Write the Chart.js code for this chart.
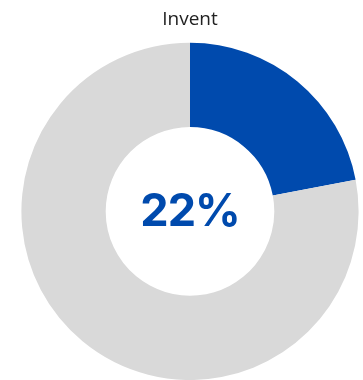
<!DOCTYPE html>
<html>
<head>
<meta charset="utf-8">
<script src="https://cdn.jsdelivr.net/npm/chart.js@4/dist/chart.umd.min.js"></script>
<style>
  html, body { margin: 0; padding: 0; background: #fff; }
  #wrap { width: 363px; height: 380px; position: relative; }
</style>
</head>
<body>
<div id="wrap"><canvas id="myChart"></canvas></div>
<script>
const labels = ['Invent', 'Other'];
const values = [22, 78];
const colors = ['#004AAD', '#D9D9D9'];
const centerLabel = '22%';

// draws the big percentage in the hole
const centerText = {
    id: 'centerText',
    afterDatasetsDraw(chart) {
        const arc = chart.getDatasetMeta(0).data[0];
        if (!arc) return;
        const ctx = chart.ctx;
        ctx.save();
        ctx.font = 'bold 45px Inter';
        ctx.letterSpacing = '-1px';
        ctx.fillStyle = '#004AAD';
        ctx.textAlign = 'center';
        ctx.textBaseline = 'alphabetic';
        ctx.fillText(centerLabel, arc.x, arc.y + 15);
        ctx.restore();
    }
};

const chart = new Chart(document.getElementById('myChart'), {
    type: 'doughnut',
    data: {
        labels: labels,
        datasets: [{
            data: values,
            backgroundColor: colors,
            borderWidth: 0
        }]
    },
    options: {
        responsive: true,
        maintainAspectRatio: false,
        animation: false,
        cutout: '50%',
        layout: { padding: { left: 17 } },
        plugins: {
            legend: { display: false },
            tooltip: { enabled: false },
            title: {
                display: true,
                text: 'Invent',
                color: '#222',
                font: { family: '"Open Sans"', size: 19, weight: 'normal' },
                padding: { top: 8, bottom: 12 }
            }
        }
    },
    plugins: [centerText]
});
</script>
</body>
</html>
